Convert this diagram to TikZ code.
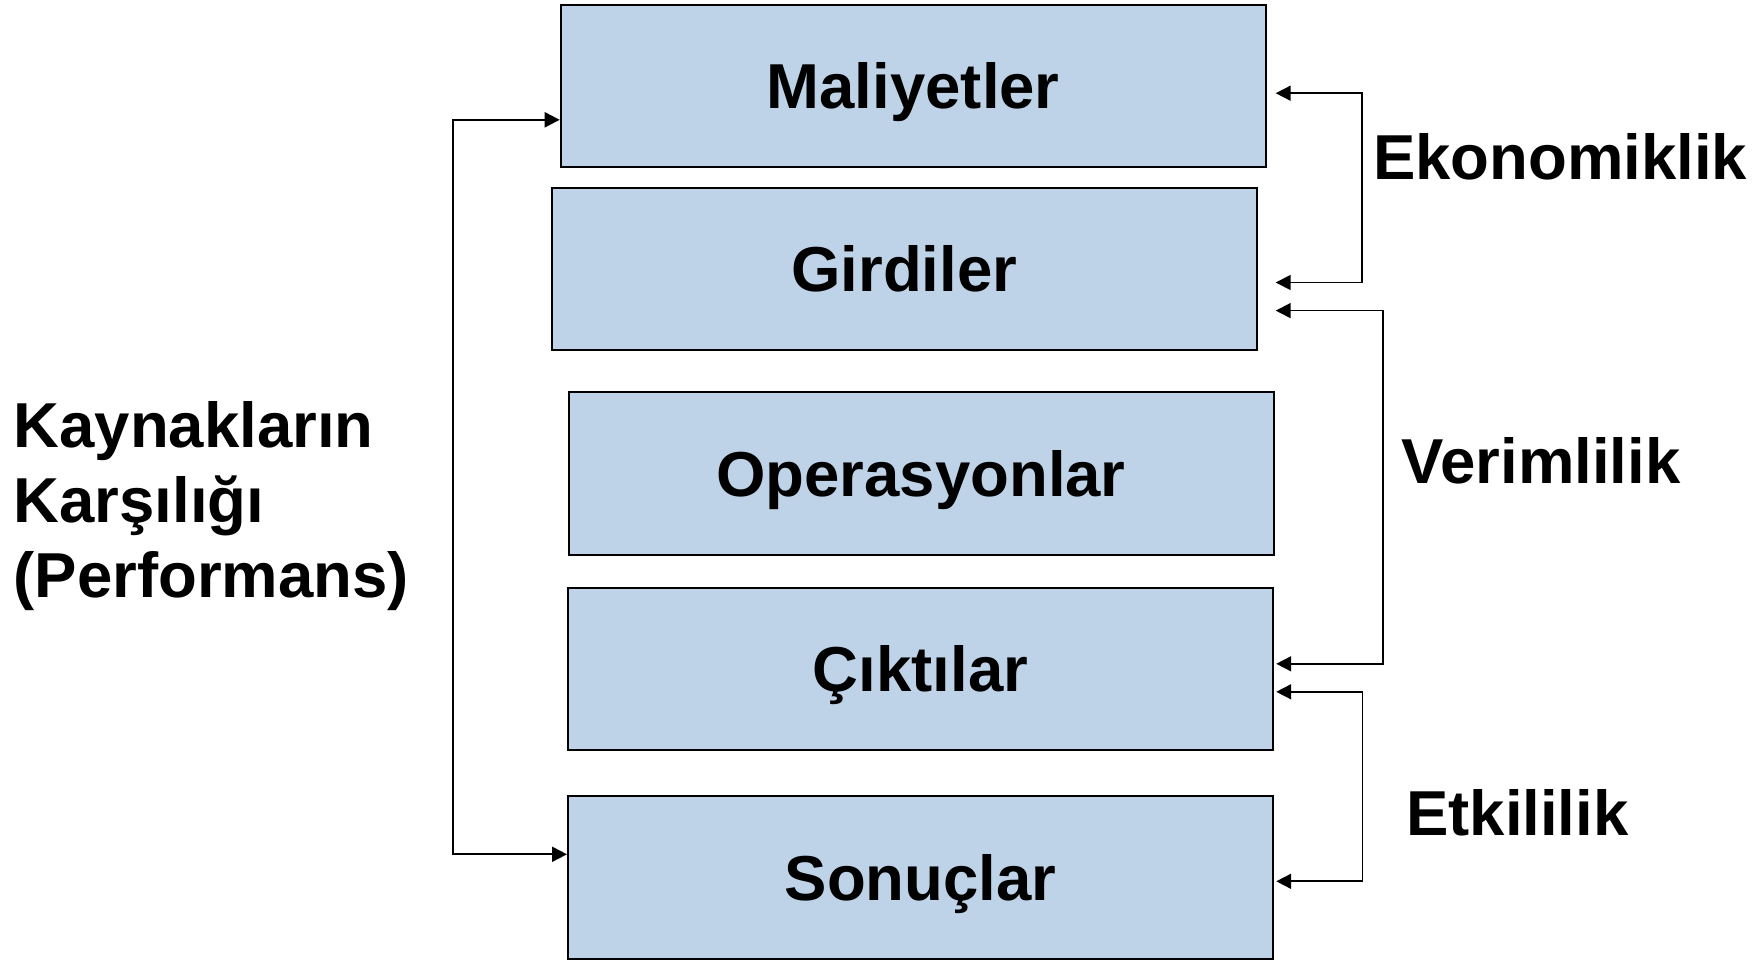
\documentclass[tikz,border=0pt]{standalone}
\usepackage{fontspec}
\setmainfont{Liberation Sans}
\usetikzlibrary{calc,arrows.meta}
\definecolor{boxfill}{RGB}{190,211,231}
\begin{document}
\begin{tikzpicture}[x=1pt,y=-1pt,
  font=\fontsize{63.5}{75}\selectfont\bfseries,
  stage/.style={draw=black,line width=2pt,fill=boxfill,minimum width=705pt,minimum height=162.5pt,inner sep=0pt,text height=45.5pt,text depth=0pt},
  lbl/.style={anchor=base west,inner sep=0pt},
  conn/.style={line width=1.7pt,{Triangle[length=15pt,width=15pt]}-{Triangle[length=15pt,width=15pt]}}
]
\useasboundingbox (0,0) rectangle (1758,960);
\node[stage] (mal) at (913.2,85.8) {Maliyetler};
\node[stage] (gir) at (904.2,269.1) {Girdiler};
\node[stage] (ope) at (921.0,473.7) {Operasyonlar};
\node[stage] (cik) at (920.5,668.8) {Çıktılar};
\node[stage] (son) at (920.5,877.3) {Sonuçlar};

\node[lbl] (eko) at (1373,179.4) {Ekonomiklik};
\node[lbl] (ver) at (1401.5,483) {Verimlilik};
\node[lbl] (etk) at (1406,835) {Etkililik};
\node[lbl,align=left] (kay) at (13.5,597.6) {Kaynakların\\Karşılığı\\(Performans)};

\draw[conn,line width=2pt] ($(mal.west)+(0,34)$) -- ++(-106.6,0) |- ($(son.west)+(0,-23)$);
\draw[conn] ($(mal.east)+(9,7.4)$) -- ++(86.2,0) |- ($(gir.east)+(18,13.4)$);
\draw[conn] ($(gir.east)+(18,41.5)$) -- ++(107.6,0) |- ($(cik.east)+(2.2,-5)$);
\draw[conn] ($(cik.east)+(2.2,23)$) -- ++(86.2,0) |- ($(son.east)+(2.2,4)$);
\end{tikzpicture}
\end{document}
